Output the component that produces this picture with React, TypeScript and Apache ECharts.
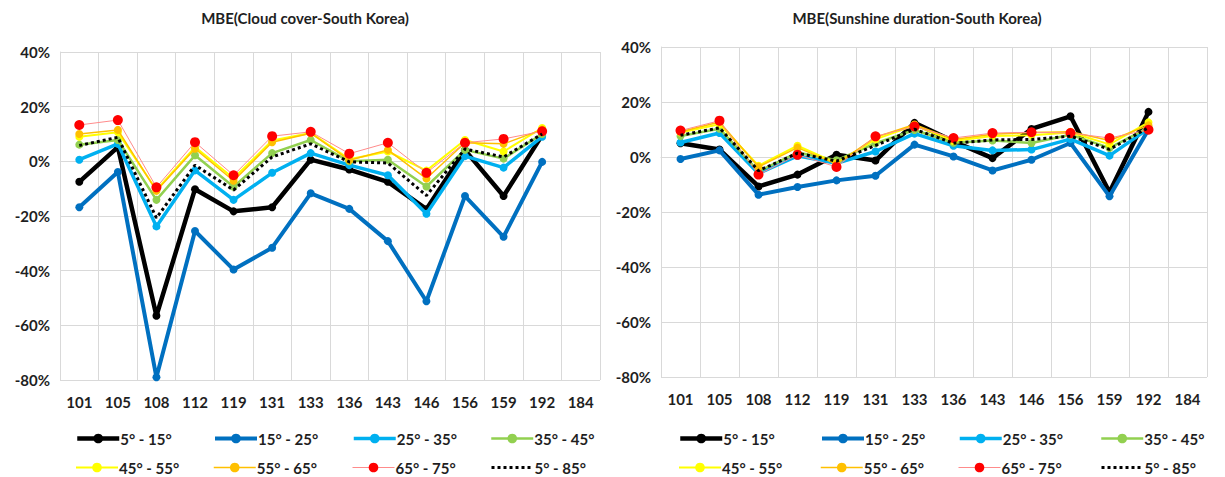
import React, { useEffect, useRef } from "react";
import * as echarts from "echarts";

const categories = ["101", "105", "108", "112", "119", "131", "133", "136", "143", "146", "156", "159", "192", "184"];
const seriesNames = ["5° - 15°", "15° - 25°", "25° - 35°", "35° - 45°", "45° - 55°", "55° - 65°", "65° - 75°", "5° - 85°"];
const yTicks = [-80, -60, -40, -20, 0, 20, 40];

// Cloud cover MBE (%)
const cloud_5_15 = [-7.5, 5.2, -56.5, -10.2, -18.3, -16.8, 0.6, -3, -7.5, -17.5, 4.1, -12.7, 9.6, null];
const cloud_15_25 = [-16.8, -3.9, -79, -25.5, -39.6, -31.6, -11.7, -17.4, -29.2, -51.2, -12.7, -27.6, -0.2, null];
const cloud_25_35 = [0.6, 6.4, -23.8, -3.3, -14.1, -4.2, 3, -1.4, -5.1, -19.2, 1.9, -2.3, 9.0, null];
const cloud_35_45 = [6.1, 7.8, -14.1, 2.2, -9.3, 3, 7.8, 0, 0.6, -9.2, 4.2, 1, 10, null];
const cloud_45_55 = [9, 10.6, -10.5, 5.2, -6.2, 7.6, 10.4, 0.8, 3.6, -3.4, 7.8, 3.6, 12.2, null];
const cloud_55_65 = [10, 11.5, -10.8, 4.6, -7.1, 7, 10.3, 0.4, 4.2, -6.3, 6.8, 6.4, 11.6, null];
const cloud_65_75 = [13.3, 15.1, -9.5, 7, -5.1, 9.2, 10.8, 2.8, 6.8, -4.2, 6.8, 8.2, 11, null];
const cloud_5_85 = [5.8, 8.8, -20.7, -1.4, -10.5, 1.6, 6.4, -0.2, -0.6, -12.5, 4.5, 1.6, 10, null];

// Sunshine duration MBE (%)
const sun_5_15 = [5, 2.7, -10.7, -6.4, 0.8, -1.3, 12.4, 5.7, -0.4, 10.2, 14.8, -12.8, 16.4, null];
const sun_15_25 = [-0.7, 2.4, -13.7, -10.9, -8.5, -6.8, 4.5, 0.2, -4.9, -1, 5.1, -14.3, 10, null];
const sun_25_35 = [5.3, 8.7, -6, 0.4, -2.3, 2, 8.5, 4.1, 2.4, 2.7, 6.5, 0.5, 10.3, null];
const sun_35_45 = [7.6, 10.3, -5.2, 1.6, -1.2, 5, 9.8, 5.2, 6, 5.1, 8.1, 3.3, 10.7, null];
const sun_45_55 = [8.9, 11.9, -3.2, 4.1, -2.2, 6.4, 11.5, 5.8, 7.6, 7.9, 8.9, 4.6, 12.6, null];
const sun_55_65 = [9.2, 12.7, -3.6, 3.4, -2.6, 7.2, 11.8, 6.4, 8.3, 8.9, 9.2, 6, 11.5, null];
const sun_65_75 = [9.6, 13.2, -6.4, 0.8, -3.6, 7.5, 11.1, 6.9, 8.7, 9, 8.7, 6.9, 9.9, null];
const sun_5_85 = [7.9, 10.6, -5, 1.4, -1.5, 4.2, 10.1, 5, 6.2, 6.4, 7.6, 2.8, 10.7, null];

const cloudData = [cloud_5_15, cloud_15_25, cloud_25_35, cloud_35_45, cloud_45_55, cloud_55_65, cloud_65_75, cloud_5_85];
const sunData = [sun_5_15, sun_15_25, sun_25_35, sun_35_45, sun_45_55, sun_55_65, sun_65_75, sun_5_85];

const styles = [
  { line: "#000000", marker: "#000000", width: 4.5, size: 8, type: "solid", symbol: "circle" },
  { line: "#0070C0", marker: "#0070C0", width: 4, size: 8, type: "solid", symbol: "circle" },
  { line: "#00B0F0", marker: "#00B0F0", width: 3.5, size: 8, type: "solid", symbol: "circle" },
  { line: "#92D050", marker: "#92D050", width: 2.5, size: 8, type: "solid", symbol: "circle" },
  { line: "#FFFF00", marker: "#FFFF00", width: 2, size: 8, type: "solid", symbol: "circle" },
  { line: "#FFC000", marker: "#FFC000", width: 1.5, size: 8, type: "solid", symbol: "circle" },
  { line: "#FF8B8B", marker: "#FF0000", width: 1, size: 10, type: "solid", symbol: "circle" },
  { line: "#000000", marker: "#000000", width: 3, size: 0, type: "dotted", symbol: "none" },
];

const FONT = "Lato, 'Open Sans', sans-serif";
const TXT = "#1f1f1f";
const GRID_C = "#D9D9D9";

const grids = [
  { left: 60, top: 52, width: 540, height: 328 },
  { left: 661, top: 47, width: 546, height: 330 },
];
const titles = ["MBE(Cloud cover-South Korea)", "MBE(Sunshine duration-South Korea)"];
const titleX = [305, 917];
const legendX = [[75, 213, 352, 490], [678, 820, 958, 1100]];
const legendY = [431, 460];

export default function App() {
  const ref = useRef<HTMLDivElement>(null);
  useEffect(() => {
    const chart = echarts.init(ref.current!, null, { renderer: "svg" });
    const xAxes = grids.map((_, i) => ({
      type: "category",
      gridIndex: i,
      data: categories,
      boundaryGap: true,
      axisLine: { show: true, lineStyle: { color: GRID_C } },
      axisTick: { show: false },
      splitLine: { show: true, lineStyle: { color: GRID_C, width: 1 } },
      axisLabel: { color: TXT, fontFamily: FONT, fontWeight: "bold", fontSize: 15, margin: 14, interval: 0 },
    }));
    const yAxes = grids.map((_, i) => ({
      type: "value",
      gridIndex: i,
      min: yTicks[0],
      max: yTicks[yTicks.length - 1],
      interval: 20,
      axisLine: { show: true, lineStyle: { color: GRID_C } },
      axisTick: { show: false },
      splitLine: { show: true, lineStyle: { color: GRID_C, width: 1 } },
      axisLabel: { color: TXT, fontFamily: FONT, fontWeight: "bold", fontSize: 15, margin: 10, formatter: (v: number) => `${v}%` },
    }));
    const series: any[] = [];
    [cloudData, sunData].forEach((set, gi) => {
      set.forEach((d, si) => {
        const s = styles[si];
        series.push({
          type: "line",
          name: seriesNames[si],
          xAxisIndex: gi,
          yAxisIndex: gi,
          data: d,
          symbol: s.symbol,
          symbolSize: s.size,
          showSymbol: s.symbol !== "none",
          lineStyle: { color: s.line, width: s.width, type: s.type },
          itemStyle: { color: s.marker },
          z: 2 + si,
        });
      });
    });
    const legends: any[] = [];
    for (let gi = 0; gi < 2; gi++) {
      seriesNames.forEach((n, si) => {
        const s = styles[si];
        legends.push({
          data: [s.symbol === "none" ? { name: n, itemStyle: { opacity: 0 } } : n],
          left: legendX[gi][si % 4],
          top: legendY[Math.floor(si / 4)],
          itemWidth: 42,
          itemHeight: 12,
          itemGap: 0,
          padding: 0,
          selectedMode: false,
          lineStyle: { width: s.width, color: s.line, type: s.type },
          textStyle: { color: TXT, fontFamily: FONT, fontWeight: "bold", fontSize: 15, padding: [0, 0, 0, -4] },
        });
      });
    }
    chart.setOption({
      animation: false,
      backgroundColor: "#ffffff",
      grid: grids,
      xAxis: xAxes,
      yAxis: yAxes,
      legend: legends,
      series,
      graphic: titles.map((t, i) => ({
        type: "text",
        x: titleX[i],
        y: 18,
        style: { text: t, fill: TXT, font: `bold 15px ${FONT}`, textAlign: "center", textVerticalAlign: "middle" },
      })),
    });
    return () => chart.dispose();
  }, []);
  return <div ref={ref} style={{ position: "absolute", left: 0, top: 0, width: 1225, height: 477 }} />;
}
